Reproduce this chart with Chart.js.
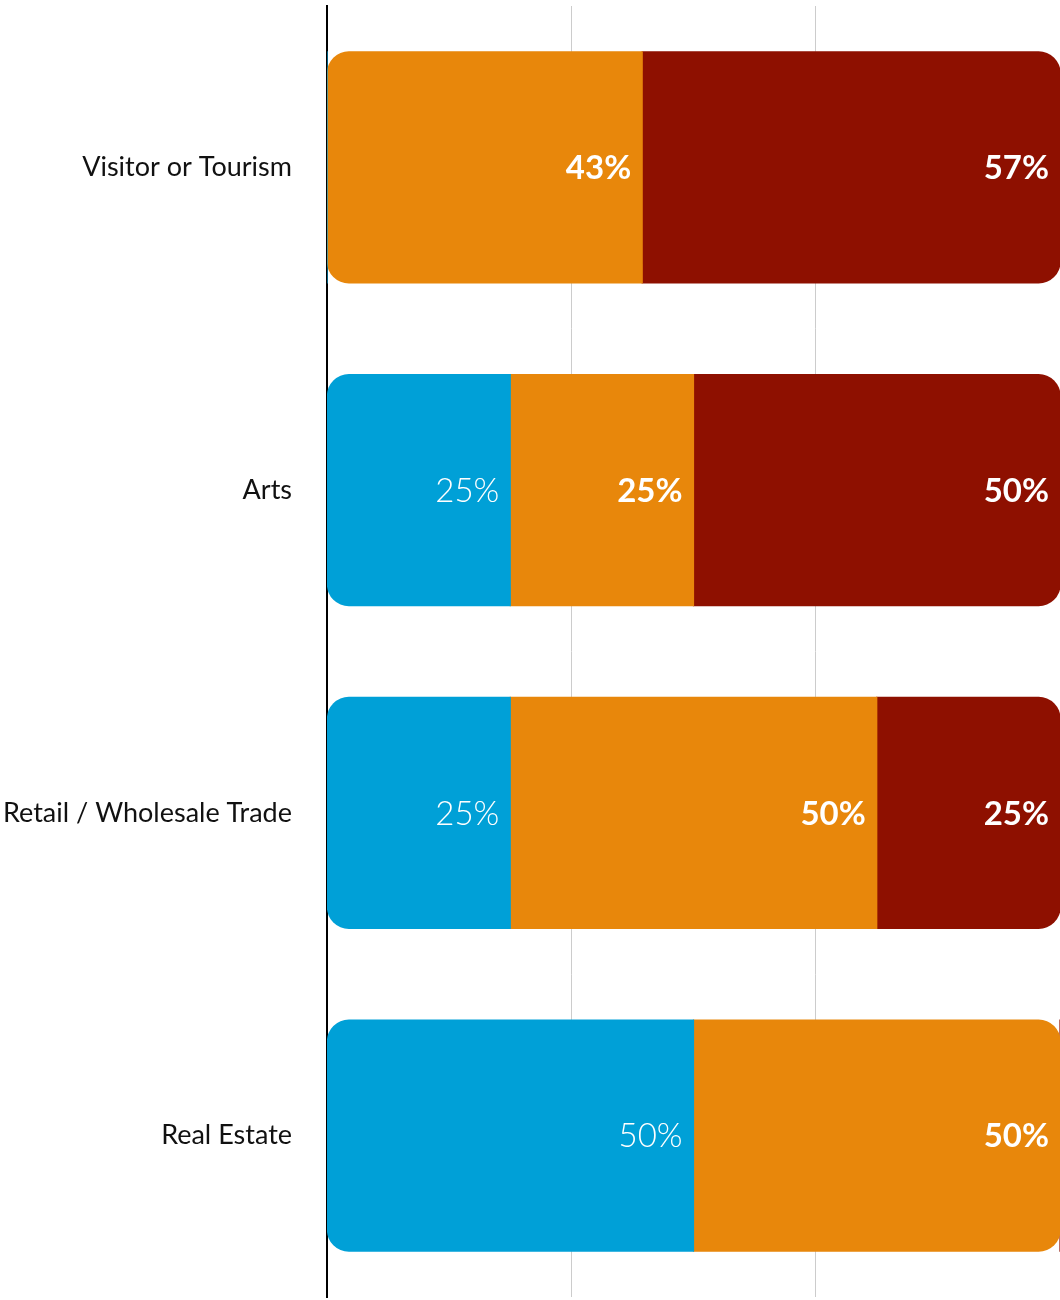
<!DOCTYPE html>
<html>
<head>
<meta charset="utf-8">
<script src="https://cdn.jsdelivr.net/npm/chart.js@4.4.1/dist/chart.umd.min.js"></script>
<style>
  html, body { margin: 0; padding: 0; background: #fff; }
  #wrap { width: 1060px; height: 1300px; }
</style>
</head>
<body>
<div id="wrap"><canvas id="chart"></canvas></div>
<script>
const categories   = ['Visitor or Tourism', 'Arts', 'Retail / Wholesale Trade', 'Real Estate'];
const blueValues   = [0, 25, 25, 50];
const orangeValues = [43, 25, 50, 50];
const redValues    = [57, 50, 25, 0];
const gridTicks    = [0, 33.33, 66.67, 100];

const series = [blueValues, orangeValues, redValues];
const colors = ['#00a0d7', '#e8870b', '#8e1000'];
const labelWeights = ['300', 'bold', 'bold'];

// round only the outer ends of each stacked row
function outerRadius(ctx) {
  const row = series.map(s => s[ctx.dataIndex]);
  const first = row.findIndex(v => v > 0);
  let last = -1;
  row.forEach((v, k) => { if (v > 0) last = k; });
  const r = 22, d = ctx.datasetIndex;
  return {
    topLeft: d === first ? r : 0, bottomLeft: d === first ? r : 0,
    topRight: d === last ? r : 0, bottomRight: d === last ? r : 0
  };
}

// percentage labels at the right end of each segment
const segmentLabels = {
  id: 'segmentLabels',
  afterDatasetsDraw(chart) {
    const c = chart.ctx;
    c.save();
    c.fillStyle = '#fff';
    c.textAlign = 'right';
    c.textBaseline = 'middle';
    chart.data.datasets.forEach((ds, d) => {
      c.font = labelWeights[d] + ' 33px Lato';
      chart.getDatasetMeta(d).data.forEach((bar, i) => {
        const v = ds.data[i];
        if (!v) return;
        c.fillText(v + '%', bar.x - 11, bar.y + 1);
      });
    });
    c.restore();
  }
};

new Chart(document.getElementById('chart'), {
  type: 'bar',
  data: {
    labels: categories,
    datasets: series.map((s, d) => ({
      label: 'Series ' + (d + 1),
      data: s,
      backgroundColor: colors[d],
      borderWidth: 0,
      borderSkipped: false,
      borderRadius: outerRadius,
      inflateAmount: 0.6,
      categoryPercentage: 1,
      barPercentage: 0.716
    }))
  },
  options: {
    indexAxis: 'y',
    responsive: true,
    maintainAspectRatio: false,
    animation: false,
    layout: { padding: 0 },
    plugins: { legend: { display: false }, tooltip: { enabled: false } },
    scales: {
      x: {
        stacked: true,
        min: 0,
        max: 100,
        afterBuildTicks: scale => { scale.ticks = gridTicks.map(v => ({ value: v })); },
        ticks: { display: false },
        border: { display: false },
        grid: {
          drawTicks: false,
          lineWidth: 1,
          color: ctx => (ctx.tick && (ctx.tick.value === 0 || ctx.tick.value === 100)) ? 'rgba(0,0,0,0)' : '#cccccc'
        }
      },
      y: {
        stacked: true,
        afterFit: scale => {
          scale.width = 327;
          scale.paddingTop = 6;
          scale.paddingBottom = 3;
        },
        border: { display: true, color: '#000', width: 2 },
        grid: { display: false, drawTicks: false },
        ticks: {
          padding: 35,
          color: '#111',
          font: { family: 'Lato', size: 27 }
        }
      }
    }
  },
  plugins: [segmentLabels]
});
</script>
</body>
</html>
